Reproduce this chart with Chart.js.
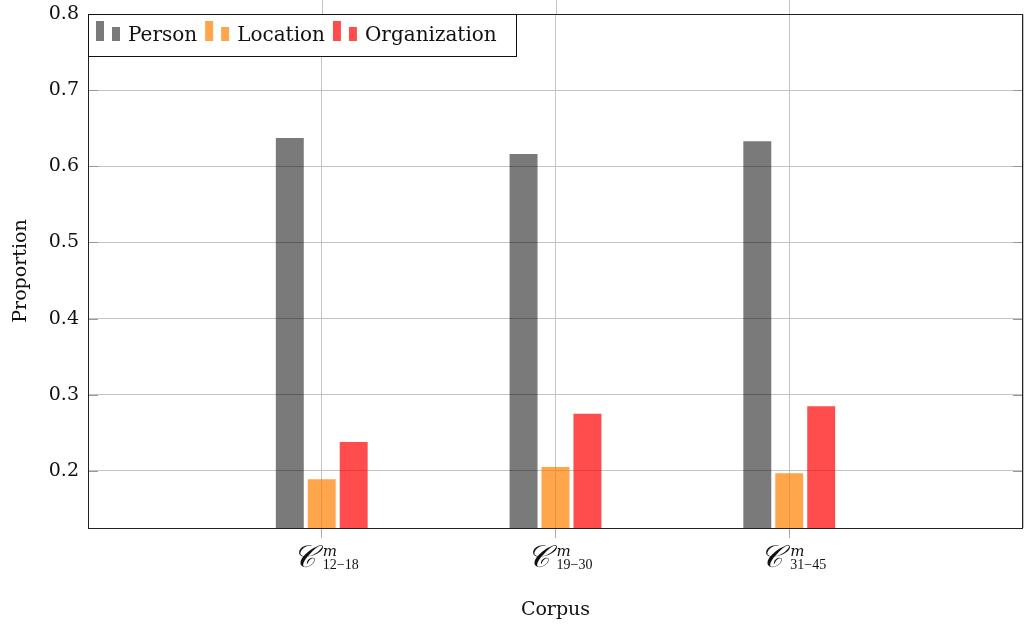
<!DOCTYPE html>
<html>
<head>
<meta charset="utf-8">
<script src="https://cdn.jsdelivr.net/npm/chart.js@4"></script>
<style>
  html, body { margin: 0; padding: 0; background: #fff; }
  #wrap { width: 1025px; height: 627px; }
</style>
</head>
<body>
<div id="wrap"><canvas id="myChart" width="1025" height="627"></canvas></div>
<script>
// corpus groups (blank entries pad the axis on both sides)
let corpora = ['', '12\u221218', '19\u221230', '31\u221245', '']
let person = [null, 0.637, 0.616, 0.633, null]
let location_ = [null, 0.189, 0.205, 0.197, null]
let organization = [null, 0.238, 0.275, 0.285, null]
let yTicks = [0.2, 0.3, 0.4, 0.5, 0.6, 0.7, 0.8]

let serif = '"DejaVu Serif", "Liberation Serif", serif'
let colors = ['rgba(0,0,0,0.52)', 'rgba(255,128,0,0.7)', 'rgba(255,0,0,0.7)']
let names = ['Person', 'Location', 'Organization']

// box round the plot, short ticks, corpus labels, legend
let extras = {
    id: 'extras',
    afterDraw(chart) {
        let ctx = chart.ctx
        let a = chart.chartArea
        let x = chart.scales.x
        let y = chart.scales.y
        ctx.save()
        ctx.strokeStyle = '#999'
        ctx.lineWidth = 1
        yTicks.forEach(v => {
            let py = Math.round(y.getPixelForValue(v)) + 0.5
            ctx.beginPath()
            ctx.moveTo(a.left, py); ctx.lineTo(a.left + 10, py)
            ctx.moveTo(a.right - 10, py); ctx.lineTo(a.right, py)
            ctx.stroke()
        })
        ctx.strokeStyle = '#c4c4c4'
        corpora.forEach((c, i) => {
            if (!c) return
            let px = Math.round(x.getPixelForValue(i)) + 0.5
            ctx.beginPath()
            ctx.moveTo(px, 0); ctx.lineTo(px, a.top)
            ctx.stroke()
        })
        ctx.strokeStyle = '#222'
        ctx.strokeRect(a.left + 0.5, a.top + 0.5, a.right - a.left - 1, a.bottom - a.top)

        ctx.fillStyle = '#111'
        ctx.textBaseline = 'alphabetic'
        corpora.forEach((c, i) => {
            if (!c) return
            let cx = x.getPixelForValue(i)
            ctx.textAlign = 'right'
            ctx.font = 'italic 31px ' + serif
            ctx.fillText('\u{1D49E}', cx - 6, a.bottom + 39)
            ctx.textAlign = 'left'
            ctx.font = 'italic 15px ' + serif
            ctx.fillText('m', cx + 1, a.bottom + 28)
            ctx.font = '14px "Liberation Serif", serif'
            ctx.fillText(c, cx + 1, a.bottom + 41)
        })

        // legend box
        let lx = a.left, ly = a.top
        ctx.fillStyle = '#fff'
        ctx.fillRect(lx, ly, 428, 42)
        ctx.strokeStyle = '#111'
        ctx.strokeRect(lx + 0.5, ly + 0.5, 428, 42)
        ctx.font = '20px ' + serif
        let px = lx + 8
        names.forEach((n, i) => {
            ctx.fillStyle = colors[i]
            ctx.fillRect(px, ly + 7, 8, 20)
            ctx.fillRect(px + 16, ly + 13, 8, 14)
            ctx.fillStyle = '#111'
            ctx.fillText(n, px + 32, ly + 27)
            px += 32 + ctx.measureText(n).width + 8
        })
        ctx.restore()
    }
}

new Chart(document.getElementById('myChart'), {
    type: 'bar',
    data: {
        labels: corpora,
        datasets: [
            { label: names[0], data: person, backgroundColor: colors[0] },
            { label: names[1], data: location_, backgroundColor: colors[1] },
            { label: names[2], data: organization, backgroundColor: colors[2] }
        ]
    },
    options: {
        responsive: false,
        animation: false,
        categoryPercentage: 0.41,
        barPercentage: 0.875,
        layout: { padding: { top: 14, right: 2, left: 10, bottom: 0 } },
        plugins: {
            legend: { display: false },
            tooltip: { enabled: false }
        },
        scales: {
            x: {
                offset: false,
                border: { display: false },
                grid: {
                    offset: false, color: '#c4c4c4', tickLength: 10,
                    tickColor: c => (c.index === 0 || c.index === corpora.length - 1) ? 'rgba(0,0,0,0)' : '#aaa'
                },
                ticks: { callback: () => '' },
                title: { display: true, text: 'Corpus', font: { family: serif, size: 19 }, color: '#111', padding: { top: 0, bottom: 6 } },
                afterFit: s => { s.height = 99; s.paddingLeft = 0; s.paddingRight = 0 }
            },
            y: {
                min: 0.125,
                max: 0.8,
                border: { display: false },
                afterBuildTicks: s => { s.ticks = yTicks.map(v => ({ value: v })) },
                grid: { color: '#c4c4c4', drawTicks: false },
                ticks: { font: { family: serif, size: 19 }, color: '#111', padding: 9, callback: v => v.toFixed(1) },
                title: { display: true, text: 'Proportion', font: { family: serif, size: 19 }, color: '#111', padding: { top: 0, bottom: 0 } },
                afterFit: s => { s.width = 78; s.paddingTop = 0; s.paddingBottom = 0 }
            }
        }
    },
    plugins: [extras]
})
</script>
</body>
</html>
